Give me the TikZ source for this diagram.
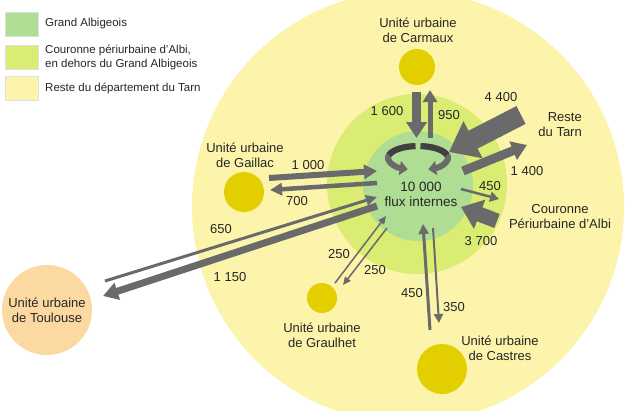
\documentclass[tikz,border=0pt]{standalone}
\usepackage{fontspec}
\setmainfont{Liberation Sans}
\usetikzlibrary{arrows.meta}

\definecolor{resteyellow}{HTML}{FBF4AA}
\definecolor{couronnegreen}{HTML}{DAEC72}
\definecolor{albigreen}{HTML}{AEDD93}
\definecolor{townyellow}{HTML}{E3CF00}
\definecolor{toulouseorange}{HTML}{FDD9A2}
\definecolor{flowgrey}{HTML}{6A6A6A}
\definecolor{ringdark}{HTML}{404040}

\begin{document}
\begin{tikzpicture}[x=1pt,y=-1pt,
every node/.style={text=black!85, font=\fontsize{13}{15}\selectfont, align=center, inner sep=0pt},
town/.style={circle, fill=townyellow, minimum size=#1},   % yellow dots
legendbox/.style={draw=black!12, fill=#1, minimum width=33pt, minimum height=24pt},
flow/.style args={#1/#2/#3}{draw=flowgrey, line width=#1, -{Triangle[width=#2,length=#3]}}]
\useasboundingbox (0,0) rectangle (626,410);

% zones
\fill[resteyellow] (408,207) circle[radius=216];
\fill[couronnegreen] (417,184) circle[radius=90];
\fill[albigreen] (418,186) circle[radius=55];

% legend
\node[legendbox=albigreen] (legalbi) at (21.5,24) {};
\node[legendbox=couronnegreen] (legcouronne) at (21.5,57) {};
\node[legendbox=resteyellow] (legreste) at (21.5,88) {};
\node[anchor=west, align=left, font=\fontsize{11.5}{14.5}\selectfont] at (45,24) {Grand Albigeois};
\node[anchor=west, align=left, font=\fontsize{11.5}{14.5}\selectfont] at (45,57.5) {Couronne périurbaine d’Albi,\\en dehors du Grand Albigeois};
\node[anchor=west, align=left, font=\fontsize{11.5}{14.5}\selectfont] at (45,88) {Reste du département du Tarn};

% towns
\node[town=36pt] (carmaux) at (417,67) {};
\node[town=40pt] (gaillac) at (244,192) {};
\node[town=30pt] (graulhet) at (322,298) {};
\node[town=50pt] (castres) at (442,369) {};
\node[circle, fill=toulouseorange, minimum size=90pt] (toulouse) at (47,310) {Unité urbaine\\de Toulouse};

\node (carmauxlbl) at (418,30.5) {Unité urbaine\\de Carmaux};
\node (gaillaclbl) at (245,155.5) {Unité urbaine\\de Gaillac};
\node (graulhetlbl) at (322,335) {Unité urbaine\\de Graulhet};
\node (castreslbl) at (500,348) {Unité urbaine\\de Castres};
\node[anchor=east, align=right] (restelbl) at (582,124.5) {Reste\\du Tarn};
\node (couronnelbl) at (560,216.5) {Couronne\\Périurbaine d’Albi};
\node[font=\fontsize{13.5}{15}\selectfont] (internes) at (421,194.5) {10 000\\flux internes};

% arrow ends
\coordinate (carmin-a) at (416.5,92);  \coordinate (carmin-b) at (416.5,138);
\coordinate (carmout-a) at (430,138);  \coordinate (carmout-b) at (430,90);
\coordinate (restein-a) at (521,115);  \coordinate (restein-b) at (449,152);
\coordinate (resteout-a) at (463,171); \coordinate (resteout-b) at (527,145);
\coordinate (courout-a) at (461,189);  \coordinate (courout-b) at (499,199);
\coordinate (courin-a) at (497,221);   \coordinate (courin-b) at (461,207);
\coordinate (gailin-a) at (269,178);   \coordinate (gailin-b) at (377,171);
\coordinate (gailout-a) at (377,183);  \coordinate (gailout-b) at (270,190);
\coordinate (toulin-a) at (105,281);   \coordinate (toulin-b) at (377,197);
\coordinate (toulout-a) at (377,206);  \coordinate (toulout-b) at (103,296);
\coordinate (graulin-a) at (335,283);  \coordinate (graulin-b) at (386,216);
\coordinate (graulout-a) at (387,228); \coordinate (graulout-b) at (343,285);
\coordinate (castin-a) at (430,330);   \coordinate (castin-b) at (423,224);
\coordinate (castout-a) at (433,228);  \coordinate (castout-b) at (439,323);

\draw[flow=9pt/20pt/16pt] (carmin-a) -- (carmin-b);
\draw[flow=5pt/14pt/12pt] (carmout-a) -- (carmout-b);
\draw[flow=20pt/40pt/27pt] (restein-a) -- (restein-b);
\draw[flow=9pt/19pt/15pt] (resteout-a) -- (resteout-b);
\draw[flow=2.5pt/10pt/9pt] (courout-a) -- (courout-b);
\draw[flow=15pt/30pt/20pt] (courin-a) -- (courin-b);
\draw[flow=6pt/14pt/13pt] (gailin-a) -- (gailin-b);
\draw[flow=4.5pt/12pt/12pt] (gailout-a) -- (gailout-b);
\draw[flow=3pt/10pt/11pt] (toulin-a) -- (toulin-b);
\draw[flow=7pt/17pt/15pt] (toulout-a) -- (toulout-b);
\draw[flow=1.5pt/7pt/8pt] (graulin-a) -- (graulin-b);
\draw[flow=1.5pt/7pt/8pt] (graulout-a) -- (graulout-b);
\draw[flow=3pt/10pt/10pt] (castin-a) -- (castin-b);
\draw[flow=2pt/9pt/9pt] (castout-a) -- (castout-b);

% internal loop
\coordinate (ring) at (418,158);
\draw[flow=6pt/14pt/8pt] ([shift={(-95:30 and 12)}]ring) arc[start angle=-95, end angle=-250, x radius=30, y radius=12];
\draw[flow=6pt/14pt/8pt] ([shift={(-85:30 and 12)}]ring) arc[start angle=-85, end angle=70, x radius=30, y radius=12];
\draw[ringdark, line width=6pt] ([shift={(-95:30 and 12)}]ring) arc[start angle=-95, end angle=-165, x radius=30, y radius=12];
\draw[ringdark, line width=6pt] ([shift={(-85:30 and 12)}]ring) arc[start angle=-85, end angle=-15, x radius=30, y radius=12];

% values
\node (v1600) at (387,111) {1 600};
\node (v950) at (449,115) {950};
\node (v4400) at (501,97) {4 400};
\node (v1400) at (527,171) {1 400};
\node (v450c) at (490,186) {450};
\node (v3700) at (481,241) {3 700};
\node (v1000) at (308,165) {1 000};
\node (v700) at (297,201) {700};
\node (v650) at (221,229) {650};
\node (v1150) at (230,277) {1 150};
\node (v250a) at (339,254) {250};
\node (v250b) at (375,270) {250};
\node (v450s) at (412,293) {450};
\node (v350) at (454,307) {350};
\end{tikzpicture}
\end{document}
